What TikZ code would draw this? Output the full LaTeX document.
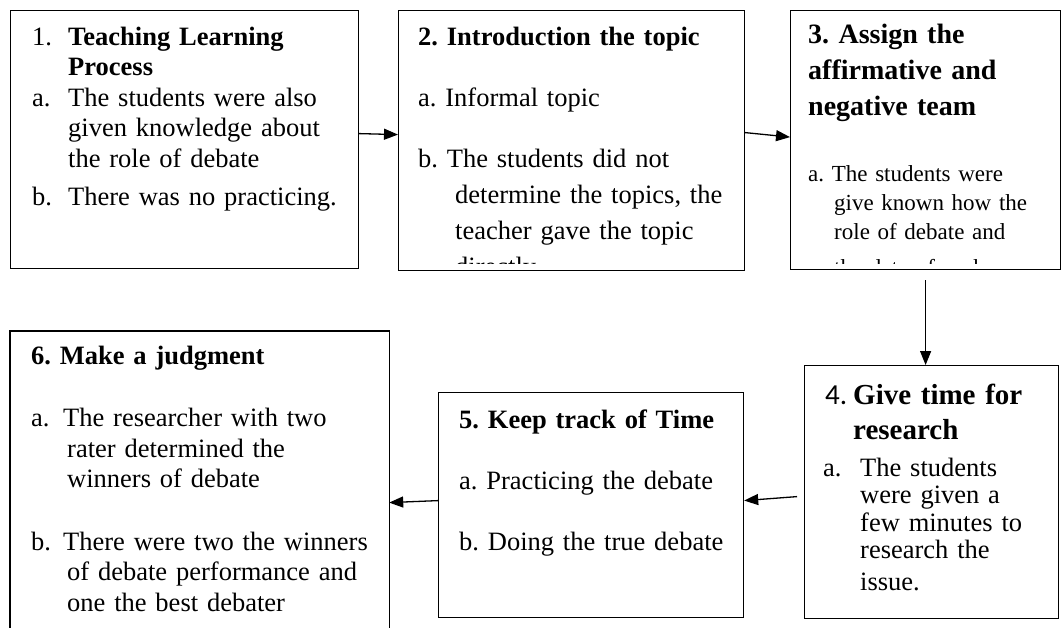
\documentclass[tikz,border=0pt]{standalone}
\usepackage{fontspec}
\setmainfont{Liberation Serif}
\newfontfamily\numfont{Carlito}
\usetikzlibrary{arrows.meta}
\frenchspacing

\newcommand{\bodysize}{\fontsize{26.5}{30.5}\selectfont}
\newcommand{\headsize}{\fontsize{28}{36}\selectfont}
\newcommand{\smallbody}{\fontsize{23}{29}\selectfont}
\newcommand{\bigheadsize}{\fontsize{29}{35}\selectfont}
\newcommand{\fourbody}{\fontsize{26.5}{27.5}\selectfont}

\tikzset{
  stage/.style={draw, line width=1.2pt, rectangle, inner sep=0pt, anchor=north west},
  txt/.style={inner sep=0pt, anchor=north west, align=left, text width=#1},
  flow/.style={-{Triangle[length=14pt,width=11pt]}, line width=1.3pt}
}

\begin{document}
\begin{tikzpicture}[x=1pt,y=-1pt]
  \useasboundingbox (0,0) rectangle (1064,628);

  % the six stages
  \node[stage, minimum width=348pt, minimum height=258pt] (b1) at (10,10) {};
  \node[stage, minimum width=346pt, minimum height=260pt] (b2) at (398,10) {};
  \node[stage, minimum width=270pt, minimum height=259pt] (b3) at (790,10) {};
  \node[stage, minimum width=254pt, minimum height=253pt] (b4) at (804,365) {};
  \node[stage, minimum width=305pt, minimum height=225pt] (b5) at (438,392) {};
  \node[stage, draw=none, minimum width=378pt, minimum height=320pt] (b6) at (10,331) {};
  \draw[line width=1.2pt] (b6.south west) -- (b6.north west) -- (b6.north east) -- (b6.south east);

  % stage 1
  \node[txt=330pt, font=\bodysize] (t1) at (32,23.65) {%
    \makebox[36pt][l]{1.}\textbf{Teaching Learning}\strut\\
    \hspace*{36pt}\textbf{Process}\strut\\
    \makebox[36pt][l]{a.}The students were also\strut\\
    \hspace*{36pt}given knowledge about\strut\\
    \hspace*{36pt}the role of debate\strut\\[8pt]
    \makebox[36pt][l]{b.}There was no practicing.\strut};

  % stage 2 (text runs past the box)
  \begin{scope}
    \clip (b2.north west) rectangle ([yshift=8pt]b2.south east);
    \node[txt=320pt, font=\bodysize] (t2) at (418,23.65) {%
      \textbf{2. Introduction the topic}\strut\\[30.5pt]
      a. Informal topic\strut\\[30.5pt]
      b. The students did not\strut\\[5.5pt]
      \hspace*{37pt}determine the topics, the\strut\\[5.5pt]
      \hspace*{37pt}teacher gave the topic\strut\\[5.5pt]
      \hspace*{37pt}directly\strut};
  \end{scope}

  % stage 3
  \begin{scope}
    \clip (b3.north west) rectangle ([yshift=7pt]b3.south east);
    \node[txt=250pt, font=\headsize] (t3) at (808,17.8) {%
      \textbf{3. Assign the}\strut\\
      \textbf{affirmative and}\strut\\
      \textbf{negative team}\strut};
    \node[txt=250pt, font=\smallbody] (t3b) at (808,160.7) {%
      a. The students were\strut\\
      \hspace*{26pt}give known how the\strut\\
      \hspace*{26pt}role of debate and\strut\\[7pt]
      \hspace*{26pt}the date of each\strut};
  \end{scope}

  % stage 4
  \node[txt=235pt, font=\bigheadsize] (t4) at (825,379.5) {%
    \makebox[28pt][l]{\numfont 4.}\textbf{Give time for}\strut\\
    \hspace*{28pt}\textbf{research}\strut};
  \node[txt=230pt, font=\fourbody] (t4b) at (823,456.75) {%
    \makebox[37pt][l]{a.}The students\strut\\
    \hspace*{37pt}were given a\strut\\
    \hspace*{37pt}few minutes to\strut\\
    \hspace*{37pt}research the\strut\\[4pt]
    \hspace*{37pt}issue.\strut};

  % stage 5
  \node[txt=285pt, font=\bodysize] (t5) at (459,406.65) {%
    \textbf{5. Keep track of Time}\strut\\[30.5pt]
    a. Practicing the debate\strut\\[30.5pt]
    b. Doing the true debate\strut};

  % stage 6
  \node[txt=350pt, font=\bodysize] (t6) at (31,342.65) {%
    \textbf{6. Make a judgment}\strut\\[32pt]
    \makebox[32pt][l]{a.}The researcher with two\strut\\
    \hspace*{36pt}rater determined the\strut\\
    \hspace*{36pt}winners of debate\strut\\[32pt]
    \makebox[32pt][l]{b.}There were two the winners\strut\\
    \hspace*{36pt}of debate performance and\strut\\
    \hspace*{36pt}one the best debater\strut};

  % arrows
  \draw[flow] ([yshift=6pt]b1.east) -- ([yshift=6pt]b2.west);
  \draw[flow] ([yshift=8pt]b2.east) -- ([yshift=3pt]b3.west);
  \draw[flow] ([yshift=-10pt]b3.south) -- (b3.south |- b4.north);
  \draw[flow] ([xshift=-7pt,yshift=-4.5pt]b4.west) -- ([yshift=4.5pt]b5.east);
  \draw[flow] ([yshift=4.5pt]b5.west) -- ([yshift=-11pt]b6.east);
\end{tikzpicture}
\end{document}
